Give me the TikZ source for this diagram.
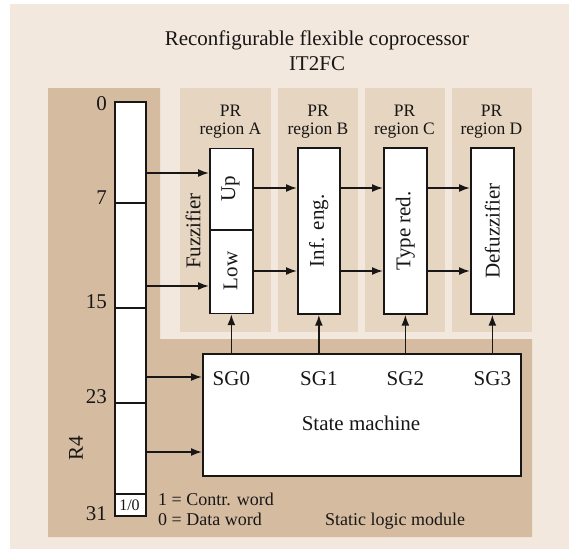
\documentclass[tikz,border=0pt]{standalone}
\usepackage{fontspec}
\setmainfont{Liberation Serif}
\usetikzlibrary{arrows.meta}

\definecolor{pagebg}{RGB}{242,232,222}
\definecolor{slmbg}{RGB}{213,188,161}
\definecolor{prbg}{RGB}{229,213,193}
\definecolor{ink}{RGB}{25,22,22}

\begin{document}
\begin{tikzpicture}[x=1pt,y=-1pt,
  box/.style={draw=ink, line width=1.7pt, fill=white, inner sep=0pt, anchor=north west},
  txt/.style={text=ink, inner sep=0pt, font=\fontsize{21}{25}\selectfont},
  txtsm/.style={text=ink, inner sep=0pt, font=\fontsize{18}{21}\selectfont},
  txtpr/.style={text=ink, inner sep=0pt, font=\fontsize{17.5}{20}\selectfont},
  txtbit/.style={text=ink, inner sep=0pt, font=\fontsize{16}{18}\selectfont},
  vert/.style={txt, rotate=90},
  divider/.style={draw=ink, line width=1.7pt},
  arr/.style={draw=ink, line width=1.7pt, -{Latex[length=11pt,width=8pt]}},
]
\useasboundingbox (0,0) rectangle (569,549);

% backgrounds: coprocessor, static logic module, PR regions
\fill[pagebg] (10,4) rectangle (569,549);
\fill[slmbg] (48,88) -- (160,88) -- (160,339) -- (532,339) -- (532,537) -- (48,537) -- cycle;
\fill[prbg] (180,88) rectangle (271,332);
\fill[prbg] (278,88) rectangle (358,332);
\fill[prbg] (365,88) rectangle (445,332);
\fill[prbg] (452,88) rectangle (532,332);

% title
\node[txt, anchor=base] (title1) at (317,45) {Reconfigurable flexible coprocessor};
\node[txt, anchor=base] (title2) at (317,70) {IT2FC};

% PR region captions
\node[txtpr, anchor=base] (prA1) at (230.5,116) {PR};
\node[txtpr, anchor=base] (prA2) at (230.5,134) {region A};
\node[txtpr, anchor=base] (prB1) at (318,116) {PR};
\node[txtpr, anchor=base] (prB2) at (318,134) {region B};
\node[txtpr, anchor=base] (prC1) at (404.5,116) {PR};
\node[txtpr, anchor=base] (prC2) at (404.5,134) {region C};
\node[txtpr, anchor=base] (prD1) at (491.5,116) {PR};
\node[txtpr, anchor=base] (prD2) at (491.5,134) {region D};

% register R4
\node[box, minimum width=31pt, minimum height=414pt] (reg) at (114,101) {};
\draw[divider] (114,203) -- (145,203);
\draw[divider] (114,308) -- (145,308);
\draw[divider] (114,403) -- (145,403);
\draw[divider] (114,494) -- (145,494);
\node[txtbit, anchor=base] (bit) at (129.5,510) {1/0};
\node[txt, anchor=base east] (b0) at (107,110) {0};
\node[txt, anchor=base east] (b7) at (107,204) {7};
\node[txt, anchor=base east] (b15) at (107,308) {15};
\node[txt, anchor=base east] (b23) at (107,403) {23};
\node[txt, anchor=base east] (b31) at (107,520) {31};
\node[vert] (r4) at (76,448) {R4};

% processing stages
\node[box, minimum width=43pt, minimum height=165pt] (fuzz) at (209,147.5) {};
\draw[divider] (209,230) -- (252,230);
\node[vert] (up) at (230.5,189) {Up};
\node[vert] (low) at (230.5,271) {Low};
\node[vert] (fuzzlbl) at (193,231) {Fuzzifier};

\node[box, minimum width=42pt, minimum height=166pt] (inf) at (297,147) {};
\node[vert] at (inf.center) {Inf. eng.};
\node[box, minimum width=43pt, minimum height=166pt] (tred) at (383,147) {};
\node[vert] at (tred.center) {Type red.};
\node[box, minimum width=43pt, minimum height=166pt] (defuzz) at (470,147) {};
\node[vert] at (defuzz.center) {Defuzzifier};

% state machine
\node[box, minimum width=318pt, minimum height=122pt] (sm) at (202,353) {};
\node[txt, anchor=base] (sg0) at (fuzz.center |- 0,385) {SG0};
\node[txt, anchor=base] (sg1) at (inf.center |- 0,385) {SG1};
\node[txt, anchor=base] (sg2) at (tred.center |- 0,385) {SG2};
\node[txt, anchor=base] (sg3) at (defuzz.center |- 0,385) {SG3};
\node[txt, anchor=base] (smlbl) at (361,430) {State machine};

% legend and module caption
\node[txtsm, anchor=base west] (leg1) at (158,505) {1 = Contr. word};
\node[txtsm, anchor=base west] (leg0) at (158,525) {0 = Data word};
\node[txtsm, anchor=base west] (slm) at (325,525) {Static logic module};

% signal rows
\coordinate (rowUp) at (0,173);
\coordinate (rowLow) at (0,286);
\coordinate (rowA) at (0,188);
\coordinate (rowB) at (0,271);
\coordinate (rowSG) at (0,377);
\coordinate (rowSM) at (0,452);

% connectors
\draw[arr] (reg.east |- rowUp) -- (fuzz.west |- rowUp);
\draw[arr] (reg.east |- rowLow) -- (fuzz.west |- rowLow);
\draw[arr] (reg.east |- rowSG) -- (sm.west |- rowSG);
\draw[arr] (reg.east |- rowSM) -- (sm.west |- rowSM);

\draw[arr] (fuzz.east |- rowA) -- (inf.west |- rowA);
\draw[arr] (fuzz.east |- rowB) -- (inf.west |- rowB);
\draw[arr] (inf.east |- rowA) -- (tred.west |- rowA);
\draw[arr] (inf.east |- rowB) -- (tred.west |- rowB);
\draw[arr] (tred.east |- rowA) -- (defuzz.west |- rowA);
\draw[arr] (tred.east |- rowB) -- (defuzz.west |- rowB);

\draw[arr] (fuzz.south |- sm.north) -- (fuzz.south);
\draw[arr] (inf.south |- sm.north) -- (inf.south);
\draw[arr] (tred.south |- sm.north) -- (tred.south);
\draw[arr] (defuzz.south |- sm.north) -- (defuzz.south);
\end{tikzpicture}
\end{document}
